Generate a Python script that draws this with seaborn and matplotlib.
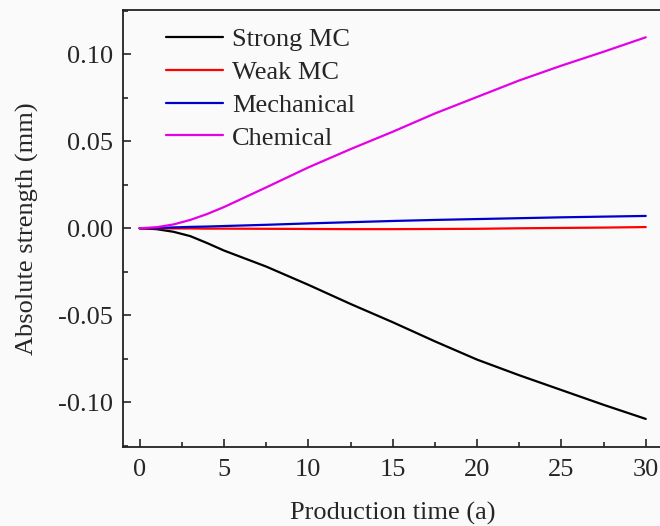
import pandas as pd
import numpy as np
import seaborn as sns
import matplotlib.pyplot as plt
from matplotlib.ticker import MultipleLocator

# Values
time_a = [0, 1, 2, 3, 4, 5, 7.5, 10, 12.5, 15, 17.5, 20, 22.5, 25, 27.5, 30]
strong_mc = [0, -0.0005, -0.002, -0.0045, -0.0085, -0.0128, -0.022, -0.0325,
             -0.0435, -0.054, -0.065, -0.0755, -0.0845, -0.093, -0.1015, -0.1096]
weak_mc = [0, 0, -0.0001, -0.0001, -0.0002, -0.0002, -0.0003, -0.0004,
           -0.0005, -0.0005, -0.0004, -0.0003, 0, 0.0002, 0.0004, 0.0007]
mechanical = [0, 0.0002, 0.0005, 0.0008, 0.001, 0.0013, 0.002, 0.0028,
              0.0035, 0.0042, 0.0048, 0.0053, 0.0058, 0.0063, 0.0067, 0.0071]
chemical = [0, 0.0006, 0.0022, 0.0048, 0.0082, 0.0122, 0.0235, 0.035,
            0.0455, 0.0555, 0.066, 0.0755, 0.085, 0.0935, 0.1015, 0.1098]

series_names = ['Strong MC', 'Weak MC', 'Mechanical', 'Chemical']
series_colors = ['#000000', '#ff0000', '#0000cc', '#e600e6']

df = pd.DataFrame({
    'time': time_a * 4,
    'value': strong_mc + weak_mc + mechanical + chemical,
    'series': np.repeat(series_names, len(time_a)),
})

sns.set_style('ticks')
plt.rcParams['font.family'] = ['Liberation Serif', 'DejaVu Serif']
plt.rcParams['xtick.direction'] = 'in'
plt.rcParams['ytick.direction'] = 'in'

fig = plt.figure(figsize=(6.6, 5.26), dpi=100, facecolor='#fafafa')
ax = fig.add_axes([0.186, 0.151, 0.818, 0.830])
ax.set_facecolor('#fafafa')

sns.lineplot(data=df, x='time', y='value', hue='series', hue_order=series_names,
             palette=dict(zip(series_names, series_colors)), linewidth=1.6, ax=ax)

ax.set_xlim(-1, 31)
ax.set_ylim(-0.1255, 0.1255)
ax.xaxis.set_major_locator(MultipleLocator(5))
ax.xaxis.set_minor_locator(MultipleLocator(2.5))
ax.yaxis.set_major_locator(MultipleLocator(0.05))
ax.yaxis.set_minor_locator(MultipleLocator(0.025))
ax.yaxis.set_major_formatter(plt.FuncFormatter(lambda v, p: f'{v:.2f}'))
ax.tick_params(which='major', length=6, width=1.2, labelsize=19, pad=7)
ax.tick_params(which='minor', length=3.5, width=1.2)
ax.tick_params(axis='x', pad=9)
for s in ax.spines.values():
    s.set_linewidth(1.3)
    s.set_color('#222222')

ax.set_xlabel('Production time (a)', fontsize=19, labelpad=15)
ax.set_ylabel('Absolute strength (mm)', fontsize=19, labelpad=14)

ax.legend(loc='upper left', bbox_to_anchor=(0.051, 0.995), frameon=False,
          fontsize=19, handlelength=2.16, labelspacing=0.35, handletextpad=0.34,
          borderaxespad=0.2)

fig.savefig('out.png', dpi=100, facecolor=fig.get_facecolor())
